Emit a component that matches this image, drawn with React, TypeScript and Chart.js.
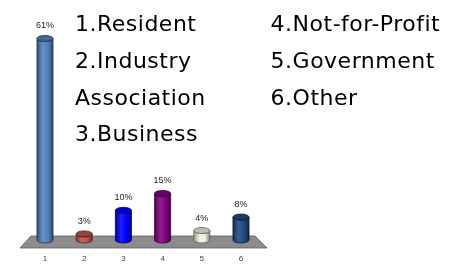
import React, { useEffect, useRef } from "react";
import { Chart, registerables } from "chart.js";

Chart.register(...registerables);

const categories = ["1", "2", "3", "4", "5", "6"];
const shareValues = [61, 3, 10, 15, 4, 8];
const valueLabels = ["61%", "3%", "10%", "15%", "4%", "8%"];
const barColors = ["#4f81bd", "#c0504d", "#0000ff", "#800080", "#eeeedc", "#1f497d"];
const legendLeft = ["1.Resident", "2.Industry", "Association", "3.Business"];
const legendRight = ["4.Not-for-Profit", "5.Government", "6.Other"];

function parseHex(hex: string): number[] {
  const h = hex.replace("#", "");
  return [0, 2, 4].map((i) => parseInt(h.slice(i, i + 2), 16));
}
function mix(hex: string, target: number, t: number): string {
  const c = parseHex(hex).map((v) => Math.round(v + (target - v) * t));
  return `rgb(${c[0]},${c[1]},${c[2]})`;
}

const cylinderPlugin = {
  id: "cylinders",
  beforeDatasetsDraw(chart: any) {
    const { ctx, chartArea: a } = chart;
    ctx.save();
    ctx.beginPath();
    ctx.moveTo(a.left + 5.6, a.bottom - 8);
    ctx.lineTo(a.right - 5.6, a.bottom - 8);
    ctx.lineTo(a.right + 6.4, a.bottom + 4);
    ctx.lineTo(a.left - 5.4, a.bottom + 4);
    ctx.closePath();
    ctx.fillStyle = "#8c8c8c";
    ctx.fill();
    ctx.strokeStyle = "#5e5e5e";
    ctx.lineWidth = 0.8;
    ctx.stroke();
    ctx.restore();
  },
  afterDatasetsDraw(chart: any) {
    const { ctx } = chart;
    const meta = chart.getDatasetMeta(0);
    meta.data.forEach((el: any, i: number) => {
      const { x, y, base, width } = el.getProps(["x", "y", "base", "width"], true);
      const rx = width / 2;
      const ry = 3;
      const topY = y;
      const botY = base - 4;
      const col = barColors[i];
      ctx.save();
      const g = ctx.createLinearGradient(x - rx, 0, x + rx, 0);
      g.addColorStop(0, mix(col, 0, 0.35));
      g.addColorStop(0.35, mix(col, 255, 0.12));
      g.addColorStop(0.7, col);
      g.addColorStop(1, mix(col, 0, 0.45));
      ctx.beginPath();
      ctx.moveTo(x - rx, topY);
      ctx.lineTo(x - rx, botY);
      ctx.ellipse(x, botY, rx, ry, 0, Math.PI, 0, true);
      ctx.lineTo(x + rx, topY);
      ctx.ellipse(x, topY, rx, ry, 0, 0, Math.PI, false);
      ctx.closePath();
      ctx.fillStyle = g;
      ctx.fill();
      ctx.strokeStyle = mix(col, 0, 0.6);
      ctx.lineWidth = 0.8;
      ctx.stroke();
      ctx.beginPath();
      ctx.ellipse(x, topY, rx, ry, 0, 0, Math.PI * 2);
      ctx.fillStyle = mix(col, 0, 0.2);
      ctx.fill();
      ctx.stroke();
      ctx.fillStyle = "#222";
      ctx.font = "9px 'Liberation Sans', Arial, sans-serif";
      ctx.textAlign = "center";
      ctx.textBaseline = "middle";
      ctx.fillText(valueLabels[i], x, topY - ry - 9.5);
      ctx.restore();
    });
  },
};

export default function App() {
  const ref = useRef<HTMLCanvasElement | null>(null);
  useEffect(() => {
    if (!ref.current) return;
    const chart = new Chart(ref.current, {
      type: "bar",
      data: {
        labels: categories,
        datasets: [
          {
            data: shareValues,
            backgroundColor: "rgba(0,0,0,0)",
            borderWidth: 0,
            barPercentage: 0.41,
            categoryPercentage: 1,
          },
        ],
      },
      options: {
        responsive: false,
        animation: false,
        devicePixelRatio: 1,
        layout: { padding: { left: 25.4, right: 190.4, top: 21.6, bottom: -8.6 } },
        plugins: { legend: { display: false }, tooltip: { enabled: false } },
        scales: {
          x: {
            grid: { display: false, drawTicks: false },
            border: { display: false },
            ticks: {
              padding: 10,
              color: "#444",
              font: { size: 8, family: "'Liberation Sans', Arial, sans-serif" },
            },
          },
          y: { display: false, min: 0, max: 66 },
        },
      },
      plugins: [cylinderPlugin],
    });
    return () => chart.destroy();
  }, []);

  const textStyle: React.CSSProperties = {
    position: "absolute",
    top: 6.4,
    fontFamily: "'DejaVu Sans', sans-serif",
    fontSize: 22,
    lineHeight: "36.6px",
    letterSpacing: "0.5px",
    color: "#000",
    whiteSpace: "nowrap",
  };

  return (
    <div style={{ position: "fixed", left: 0, top: 0, width: 451, height: 265, background: "#fff" }}>
      <canvas ref={ref} width={451} height={265} style={{ position: "absolute", left: 0, top: 0 }} />
      <div style={{ ...textStyle, left: 75 }}>
        {legendLeft.map((t) => (
          <div key={t}>{t}</div>
        ))}
      </div>
      <div style={{ ...textStyle, left: 270.6 }}>
        {legendRight.map((t) => (
          <div key={t}>{t}</div>
        ))}
      </div>
    </div>
  );
}
